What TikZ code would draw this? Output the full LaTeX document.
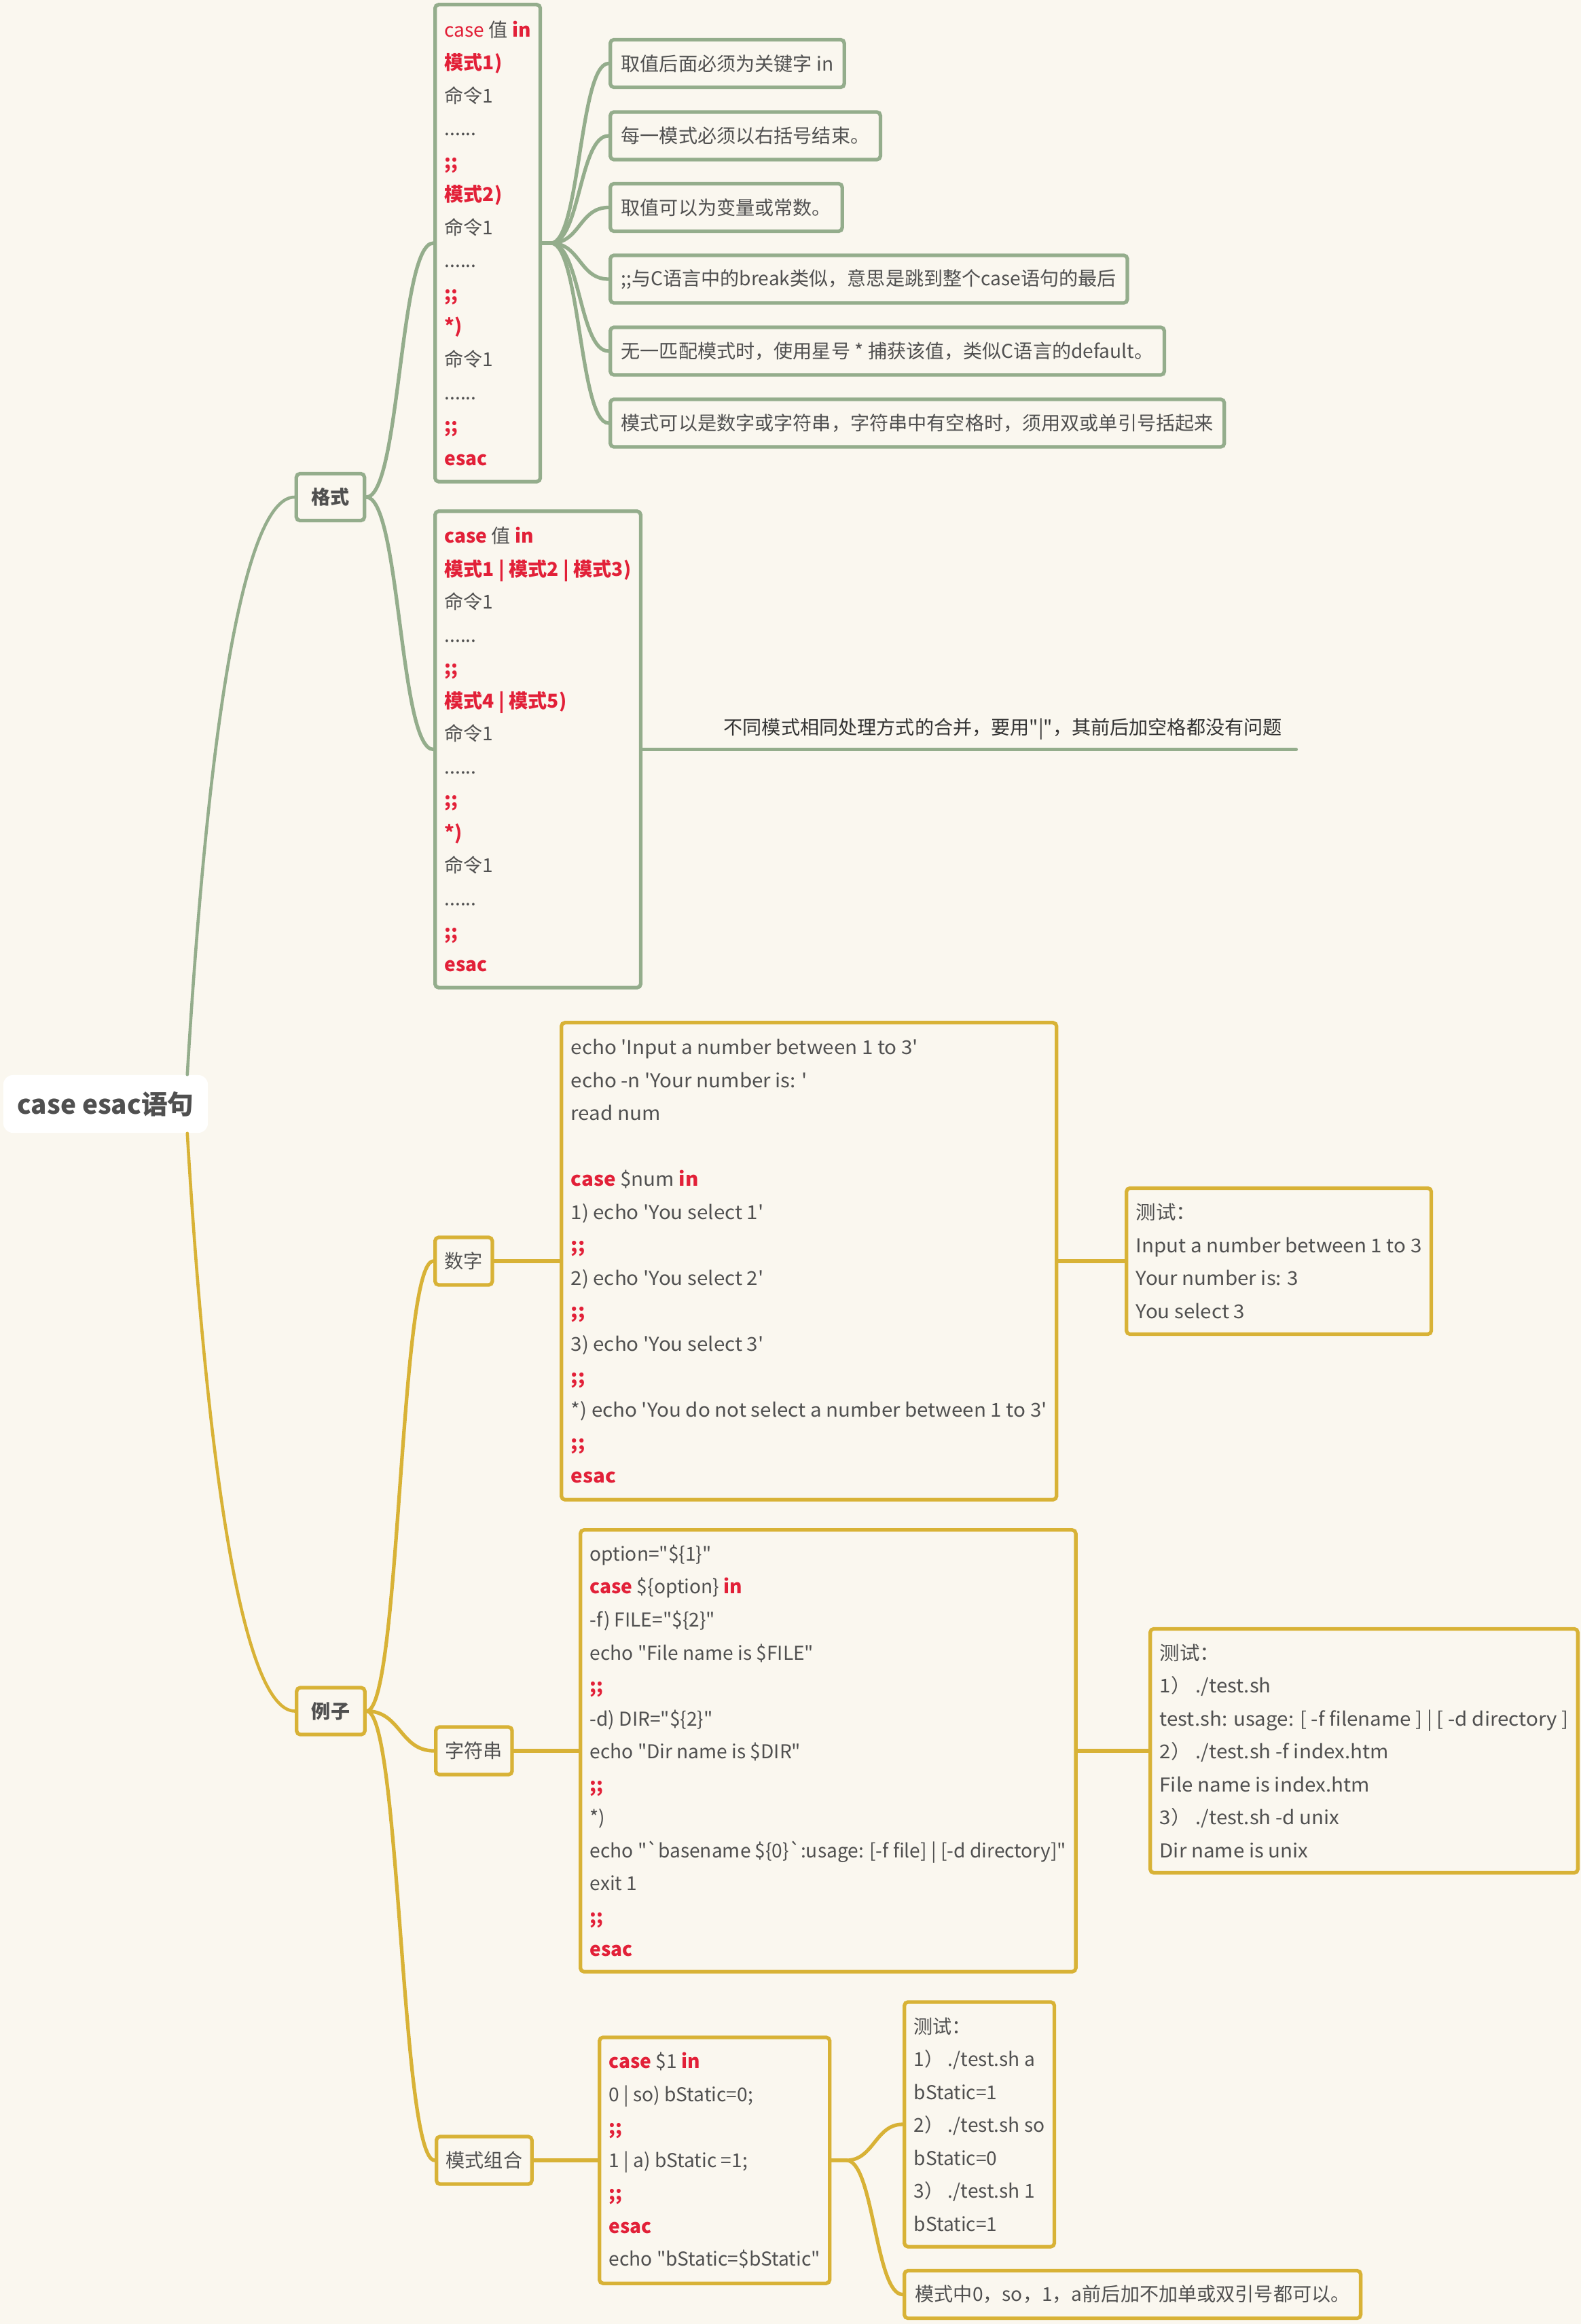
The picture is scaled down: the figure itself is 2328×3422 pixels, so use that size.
\documentclass[tikz,border=0pt]{standalone}
\usepackage{fontspec}
\setmainfont{Noto Sans CJK SC}[Ligatures=TeXOff]
\newfontfamily\shellfont{Noto Sans CJK SC}[Ligatures=TeXOff, FakeStretch=1.05]
\usepackage{xcolor}
\usepackage{tikz}

\definecolor{paper}{RGB}{250,247,239}
\definecolor{sage}{RGB}{148,173,140}
\definecolor{mustard}{RGB}{216,178,54}
\definecolor{kwred}{RGB}{226,32,56}
\definecolor{ink}{RGB}{80,80,80}

\newcommand{\kw}[1]{\textcolor{kwred}{\textbf{#1}}}
\newcommand{\kwn}[1]{\textcolor{kwred}{#1}}

\begin{document}
\begin{tikzpicture}[
    x=0.01cm, y=-0.01cm,
    every node/.style={font=\fontsize{8}{13.8}\selectfont, text=ink},
    rootbox/.style={rounded corners=4pt, fill=white, minimum width=3.01cm, minimum height=0.85cm, font=\fontsize{11}{13}\selectfont\bfseries},
    topic/.style={draw, line width=1.5pt, rounded corners=1.5pt, fill=paper, inner xsep=0.22cm, minimum height=0.69cm, font=\fontsize{8}{13.8}\selectfont\bfseries},
    sub/.style={draw, line width=1.5pt, rounded corners=1.5pt, fill=paper, inner xsep=0.14cm, minimum height=0.70cm, anchor=west},
    code/.style={draw, line width=1.5pt, rounded corners=1.5pt, fill=paper, inner xsep=0.14cm, align=left, anchor=west},
    shellbox/.style={code, font=\fontsize{8}{13.8}\selectfont\shellfont},
    tip/.style={draw, line width=1.5pt, rounded corners=1.5pt, fill=paper, inner xsep=0.16cm, minimum height=0.70cm, anchor=west},
    link/.style={line width=1.5pt, line cap=round},
    trunk/.style={line width=1.3pt, line cap=round}
]

% page
\fill[paper] (0,0) rectangle (2328,3422);
\useasboundingbox (0,0) rectangle (2328,3422);

\node[rootbox] (root) at (155.5,1625.5) {case esac语句};

% format branch
\node[topic, draw=sage] (fmt) at (486.5,732) {格式};

\node[code, draw=sage, minimum height=7.02cm] (fmt1) at (638,358) {
\kwn{case} 值 \kw{in}\\
\kw{模式1)}\\
命令1\\
......\\
\kw{;;}\\
\kw{模式2)}\\
命令1\\
......\\
\kw{;;}\\
\kw{*)}\\
命令1\\
......\\
\kw{;;}\\
\kw{esac}
};

\node[tip, draw=sage] (d1) at (896,93.5) {取值后面必须为关键字 in};
\node[tip, draw=sage] (d2) at (896,200) {每一模式必须以右括号结束。};
\node[tip, draw=sage] (d3) at (896,305.5) {取值可以为变量或常数。};
\node[tip, draw=sage] (d4) at (896,411) {;;与C语言中的break类似，意思是跳到整个case语句的最后};
\node[tip, draw=sage] (d5) at (896,517) {无一匹配模式时，使用星号 * 捕获该值，类似C语言的default。};
\node[tip, draw=sage] (d6) at (896,623) {模式可以是数字或字符串，字符串中有空格时，须用双或单引号括起来};

\node[code, draw=sage, minimum height=7.01cm] (fmt2) at (638,1103.5) {
\kw{case} 值 \kw{in}\\
\kw{模式1 | 模式2 | 模式3)}\\
命令1\\
......\\
\kw{;;}\\
\kw{模式4 | 模式5)}\\
命令1\\
......\\
\kw{;;}\\
\kw{*)}\\
命令1\\
......\\
\kw{;;}\\
\kw{esac}
};

\node[anchor=south west, minimum height=0.58cm, inner xsep=0.2cm, text=black!80] (merge) at (1045,1103.5) {不同模式相同处理方式的合并，要用"|"，其前后加空格都没有问题};

% example branch
\node[topic, draw=mustard] (eg) at (487,2519.5) {例子};

\node[sub, draw=mustard] (num) at (638,1857) {数字};
\node[shellbox, draw=mustard, minimum height=7.02cm] (numcode) at (824,1857) {
echo 'Input a number between 1 to 3'\\
echo -n 'Your number is: '\\
read num\\[13.8pt]
\kw{case} \$num \kw{in}\\
1) echo 'You select 1'\\
\kw{;;}\\
2) echo 'You select 2'\\
\kw{;;}\\
3) echo 'You select 3'\\
\kw{;;}\\
{*}) echo 'You do not select a number between 1 to 3'\\
\kw{;;}\\
\kw{esac}
};
\node[shellbox, draw=mustard, minimum height=2.15cm] (numtest) at (1656,1857) {
测试：\\
Input a number between 1 to 3\\
Your number is: 3\\
You select 3
};

\node[sub, draw=mustard] (str) at (639,2578) {字符串};
\node[code, draw=mustard, minimum height=6.50cm] (strcode) at (852,2578) {
option="\$\{1\}"\\
\kw{case} \$\{option\} \kw{in}\\
-f) FILE="\$\{2\}"\\
echo "File name is \$FILE"\\
\kw{;;}\\
-d) DIR="\$\{2\}"\\
echo "Dir name is \$DIR"\\
\kw{;;}\\
{*})\\
echo "`basename \$\{0\}`:usage: [-f file] | [-d directory]"\\
exit 1\\
\kw{;;}\\
\kw{esac}
};
\node[shellbox, draw=mustard, minimum height=3.59cm] (strtest) at (1691,2578) {
测试：\\
1） ./test.sh\\
test.sh: usage: [ -f filename ] | [ -d directory ]\\
2） ./test.sh -f index.htm\\
File name is index.htm\\
3） ./test.sh -d unix\\
Dir name is unix
};

\node[sub, draw=mustard] (combo) at (640,3181) {模式组合};
\node[code, draw=mustard, minimum height=3.62cm] (combocode) at (880,3181) {
\kw{case} \$1 \kw{in}\\
0 | so) bStatic=0;\\
\kw{;;}\\
1 | a) bStatic =1;\\
\kw{;;}\\
\kw{esac}\\
echo "bStatic=\$bStatic"
};
\node[code, draw=mustard, minimum height=3.60cm] (combotest) at (1329,3128) {
测试：\\
1） ./test.sh a\\
bStatic=1\\
2） ./test.sh so\\
bStatic=0\\
3） ./test.sh 1\\
bStatic=1
};
\node[tip, draw=mustard] (combonote) at (1329,3378.5) {模式中0，so，1，a前后加不加单或双引号都可以。};

% connectors
\draw[trunk, sage] ([xshift=-0.31cm]root.north east) .. controls +(35,-583) and +(-66,0) .. (fmt.west);
\draw[trunk, mustard] ([xshift=-0.31cm]root.south east) .. controls +(35,582) and +(-66,0) .. (eg.west);

\draw[link, sage] (fmt.east) .. controls +(50,0) and +(-50,0) .. (fmt1.west);
\draw[link, sage] (fmt.east) .. controls +(50,0) and +(-50,0) .. (fmt2.west);
\foreach \d in {d1,d2,d3,d4,d5,d6}
  \draw[link, sage] (fmt1.east) -- ++(13,0) .. controls +(43,0) and +(-43,0) .. (\d.west);
\draw[link, sage] (fmt2.east) -- (merge.south west) -- (merge.south east);

\draw[link, mustard] (eg.east) .. controls +(50,0) and +(-50,0) .. (num.west);
\draw[link, mustard] (eg.east) .. controls +(50,0) and +(-50,0) .. (str.west);
\draw[link, mustard] (eg.east) .. controls +(50,0) and +(-50,0) .. (combo.west);
\draw[link, mustard] (num.east) -- (numcode.west);
\draw[link, mustard] (numcode.east) -- (numtest.west);
\draw[link, mustard] (str.east) -- (strcode.west);
\draw[link, mustard] (strcode.east) -- (strtest.west);
\draw[link, mustard] (combo.east) -- (combocode.west);
\draw[link, mustard] (combocode.east) -- ++(22,0) .. controls +(40,0) and +(-40,0) .. (combotest.west);
\draw[link, mustard] (combocode.east) -- ++(22,0) .. controls +(40,0) and +(-40,0) .. (combonote.west);

\end{tikzpicture}
\end{document}
